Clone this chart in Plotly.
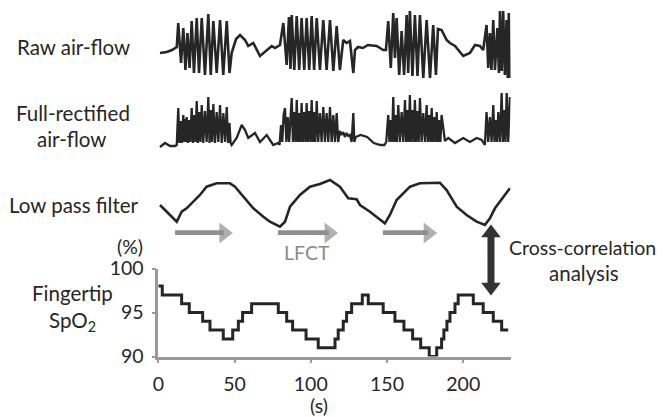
import plotly.graph_objects as go

# ---------------- data (time in s, amplitudes in arbitrary units) ----------------
raw_t = [1.1, 5.5, 9.0, 11.0, 12.1,
         13.1, 14.9, 16.4, 17.8, 19.1, 20.5, 21.9, 23.4, 25.2, 26.7, 28.5, 30.6, 32.8, 34.4,
         36.1, 38.3, 40.5, 42.6, 44.9, 46.7,
         48.1, 51.0, 53.6, 56.9, 59.0, 62.3, 66.7, 71.1, 74.4, 76.5, 79.8,
         82.0, 84.2, 85.7, 86.7, 87.5, 89.2, 90.8, 92.4, 94.0, 95.7, 97.3, 99.0, 100.6, 102.2,
         103.9, 106.0, 108.2, 110.4, 112.6, 114.8, 117.0, 119.1,
         121.3, 123.5, 125.7, 127.9, 129.0, 131.0, 134.2, 137.5, 143.2, 147.5, 149.3,
         150.8, 152.5, 154.1, 155.2, 156.3, 158.0, 159.6, 161.2, 162.9, 163.9, 165.0, 166.7,
         168.3, 170.0, 171.6, 173.8, 176.0, 178.2, 180.3, 182.1, 183.4,
         185.8, 189.1, 191.3, 194.6, 200.0, 204.4, 207.7, 210.9, 213.1,
         215.3, 216.4, 217.5, 218.5, 219.7, 220.8, 222.4, 223.4, 224.1, 225.2, 226.2, 227.3,
         228.4, 229.2, 229.9, 230.6]
raw_v = [-3, -2, 0, 2, 3,
         27, -13, 22, -20, 17, -18, 29, -23, 32, -23, 32, -25, 36, -25,
         29, -23, 30, -25, 29, -23,
         -3, 11, 15, 10, 4, 7, -6, 0, 4, 2, 5,
         27, -15, 33, -19, 35, -20, 34, -20, 32, -20, 32, -20, 34, -20,
         32, -20, 30, -20, 30, -21, 24, -20,
         10, 7, 9, -23, 0, 3, 2, 5, 4, 0, 0,
         29, -18, 37, -8, 32, -25, 19, -25, 35, -23, 39, -26,
         35, -26, 35, -28, 30, -28, 25, -25, 21,
         20, 10, 7, 4, -6, -3, 5, 4, 0,
         25, -18, 17, -20, 30, -20, 22, -23, 39, -21, 39, -25,
         30, -28, 37, -28]

rect_t = [1.1, 4.4, 7.7, 11.0,
          12.1, 13.1, 13.8, 14.6, 15.4, 16.4, 17.0, 17.6, 18.1, 18.6, 19.4, 20.2, 21.0, 21.9,
          22.7, 23.5, 24.4, 25.2, 26.0, 26.8, 27.7, 28.5, 29.5, 30.6, 31.7, 32.8, 33.6, 34.5,
          35.3, 36.1, 37.2, 38.3, 39.4, 40.5, 41.6, 42.7, 43.8, 44.9, 45.8, 46.7, 47.4, 48.1,
          51.4, 54.7, 56.9, 59.0, 63.4, 66.7, 71.1, 75.4, 78.7,
          79.5, 80.5, 81.3, 82.2, 83.1, 84.0, 84.9, 85.8, 86.6, 87.5, 88.3, 89.2, 90.0, 90.8,
          91.6, 92.4, 93.2, 94.0, 94.8, 95.7, 96.5, 97.3, 98.1, 99.0, 99.8, 100.6, 101.4, 102.2,
          103.0, 103.9, 104.9, 106.0, 107.1, 108.2, 109.3, 110.4, 111.5, 112.6, 113.7, 114.8,
          115.9, 117.0, 118.0, 119.1, 120.2, 121.3, 122.4, 123.5, 124.6, 125.7, 126.8, 127.9,
          128.6, 129.5, 132.6, 137.0, 141.3, 145.7,
          148.3, 149.5, 150.8, 151.6, 152.5, 153.3, 154.1, 154.9, 155.7, 156.5, 157.4, 158.5,
          159.6, 160.7, 161.8, 162.6, 163.4, 164.2, 165.0, 165.8, 166.7, 167.5, 168.3, 169.1,
          170.0, 170.8, 171.6, 172.7, 173.8, 174.9, 176.0, 176.8, 177.6, 178.5, 179.3, 180.1,
          180.9, 181.8, 182.6, 183.4, 184.2, 185.0, 185.8, 188.0,
          190.2, 194.6, 200.0, 204.4, 208.8, 212.1,
          214.2, 215.3, 216.4, 217.5, 218.6, 219.7, 220.5, 221.3, 222.2, 223.0, 224.1, 225.2,
          226.0, 226.8, 227.7, 228.5, 229.5, 230.6]
rect_v = [-2, 2, -1, -1,
          0, 37, 2, 24, 2, 30, 3, 26, 3, 28, 2, 25, 3, 37,
          2, 30, 3, 44, 2, 33, 3, 40, 2, 34, 3, 48, 2, 35,
          3, 41, 2, 33, 3, 40, 2, 32, 3, 38, 2, 22, 2, 0,
          7, 20, 15, 7, 12, 3, 10, 0, 2,
          0, 20, 3, 30, 37, 3, 28, 3, 30, 47, 3, 33, 3, 45,
          3, 32, 3, 42, 3, 33, 3, 42, 3, 34, 3, 45, 3, 33,
          3, 44, 3, 32, 3, 38, 3, 32, 3, 38, 3, 30,
          3, 32, 3, 14, 10, 13, 8, 12, 9, 10, 3, 32,
          3, 8, 10, 8, 2, 0,
          0, 3, 30, 3, 25, 3, 48, 3, 30, 3, 40, 3,
          33, 3, 45, 3, 35, 3, 50, 3, 35, 3, 45, 3,
          34, 3, 47, 3, 32, 3, 40, 3, 30, 3, 37, 3,
          28, 3, 33, 3, 25, 3, 30, 4,
          7, 2, 7, 3, 7, 5,
          0, 33, 3, 28, 3, 40, 3, 25, 3, 33, 3, 52,
          3, 35, 3, 52, 3, 48]

lpf_t = [1.1, 6.4, 12.1, 15.3, 18.6, 27.3, 31.7, 38.3, 47.0, 50.3, 55.7, 62.3, 68.9, 73.2,
         79.8, 83.1, 86.4, 92.9, 99.5, 106.0, 112.6, 119.1, 124.6, 130.1, 132.3, 138.8, 148.6,
         151.9, 156.3, 165.1, 171.6, 184.7, 189.1, 195.7, 202.2, 208.8, 214.2, 217.5, 220.8,
         226.2, 230.6]
lpf_v = [25, 16.7, 8.3, 18.3, 21.7, 35, 43.3, 46.7, 46.7, 43.3, 33.3, 21.7, 13.3, 8.3,
         3.3, 8.3, 23.3, 35, 43.3, 46, 50, 43.3, 31.7, 30.7, 25, 18.3, 6.7,
         15, 30, 43.3, 46.7, 47.3, 40, 23.3, 15, 8.3, 5, 11.7, 21.7,
         33.3, 41.7]

spo2_t = [0, 2.6, 15.3, 20.3, 29.1, 33.9, 42.6, 48.8, 52.5, 55.3, 61.2, 78.7, 84.2, 88.1,
          96.9, 104.9, 115.9, 118.0, 121.3, 123.5, 126.8, 133.8, 137.7, 147.5, 155.2, 161.1,
          166.8, 172.1, 177.7, 182.6, 185.8, 187.3, 189.3, 191.3, 194.6, 196.7, 206.6, 213.1,
          219.7, 225.2, 229.5]
spo2_v = [98, 97, 96, 95, 94, 93, 92, 93, 94, 95, 96, 95, 94, 93,
          92, 91, 92, 93, 94, 95, 96, 97, 96, 95, 94, 93,
          92, 91, 90, 91, 92, 93, 94, 95, 96, 97, 96, 95,
          94, 93, 93]

spo2_ticks = [90, 95, 100]
time_ticks = [0, 50, 100, 150, 200]

# LFCT arrows: start time, arrow-head centre time (s)
lfct_start = [11.0, 78.5, 147.3]
lfct_head = [43.0, 112.0, 177.0]
# cross-correlation double arrow: time and head centres (px-height units of its own axis)
xcorr_t = 218.2
xcorr_ends = [9, 63]

# ---------------- figure ----------------
# the page body has an 8px margin, so the figure is drawn 8px in from the corner
OFF = 8
W, H = 665 - OFF, 417 - OFF
FONT = "Lato, 'Open Sans', sans-serif"
INK = "#262626"


def fxp(px):
    return (px - OFF) / W


def fyp(py):
    return 1 - (py - OFF) / H


fig = go.Figure()
fig.add_trace(go.Scatter(x=raw_t, y=raw_v, mode="lines", yaxis="y4",
                         line=dict(color=INK, width=2.6), hoverinfo="skip"))
fig.add_trace(go.Scatter(x=rect_t, y=rect_v, mode="lines", yaxis="y3",
                         line=dict(color=INK, width=2.3), hoverinfo="skip"))
fig.add_trace(go.Scatter(x=lpf_t, y=lpf_v, mode="lines", yaxis="y2",
                         line=dict(color=INK, width=2.6), hoverinfo="skip"))
fig.add_trace(go.Scatter(x=spo2_t, y=spo2_v, mode="lines", yaxis="y",
                         line=dict(color=INK, width=3, shape="hv"), hoverinfo="skip"))

for a0, a1 in zip(lfct_start, lfct_head):
    fig.add_trace(go.Scatter(x=[a0, a1], y=[-3, -3], yaxis="y2", mode="lines+markers",
                             line=dict(color="#8f8f8f", width=5.5),
                             marker=dict(symbol=["circle", "triangle-right"], size=[0, 18],
                                         color="#8f8f8f", line=dict(width=0)),
                             cliponaxis=False, hoverinfo="skip"))
fig.add_trace(go.Scatter(x=[xcorr_t, xcorr_t], y=xcorr_ends, yaxis="y5", mode="lines+markers",
                         line=dict(color="#333333", width=7),
                         marker=dict(symbol=["triangle-down", "triangle-up"], size=17,
                                     color="#333333", line=dict(width=0)),
                         cliponaxis=False, hoverinfo="skip"))

ann = []


def label(text, x, y, size=20.5, color=INK):
    ann.append(dict(text=text, x=fxp(x), y=fyp(y), xref="paper", yref="paper",
                    showarrow=False, font=dict(family=FONT, size=size, color=color),
                    xanchor="center", yanchor="middle"))


label("Raw air-flow", 73, 47)
label("Full-rectified", 73, 113)
label("air-flow", 71, 139)
label("Low pass filter", 74, 205)
label("(%)", 130, 246, size=19.5)
label("LFCT", 307, 252, size=19.5, color="#8a8a8a")
label("Fingertip", 72, 293)
label("SpO<sub>2</sub>", 72, 321)
label("(s)", 319, 405, size=19.5)
label("Cross-correlation", 582, 247, size=19.5)
label("analysis", 584, 273)

axis_style = dict(showgrid=False, zeroline=False, automargin=False,
                  showline=True, linecolor="#999999", linewidth=2.5,
                  ticks="outside", ticklen=4, tickwidth=2, tickcolor="#999999",
                  ticklabelstandoff=4, tickfont=dict(size=19.5, color=INK))

fig.update_layout(
    width=W, height=H,
    margin=dict(l=0, r=0, t=0, b=0, pad=0, autoexpand=False),
    paper_bgcolor="white", plot_bgcolor="rgba(0,0,0,0)",
    showlegend=False,
    annotations=ann,
    font=dict(family=FONT, size=19.5, color=INK),
    xaxis=dict(domain=[fxp(158.3), fxp(510.5)], range=[0, 231], anchor="y",
               tickvals=time_ticks, **axis_style),
    yaxis=dict(domain=[fyp(356.5), fyp(268.5)], range=[90, 100], anchor="x",
               tickvals=spo2_ticks, **axis_style),
    yaxis2=dict(domain=[fyp(235), fyp(175)], range=[-5, 55], anchor="x",
                visible=False, automargin=False),
    yaxis3=dict(domain=[fyp(150), fyp(88)], range=[-5, 57], anchor="x",
                visible=False, automargin=False),
    yaxis4=dict(domain=[fyp(80), fyp(8)], range=[-30, 42], anchor="x",
                visible=False, automargin=False),
    yaxis5=dict(domain=[fyp(296), fyp(224)], range=[0, 72], anchor="x",
                visible=False, automargin=False),
)

fig.write_html("out.html")
